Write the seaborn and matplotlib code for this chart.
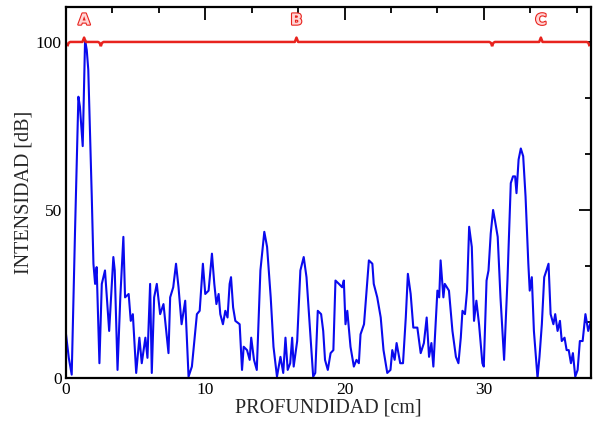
import numpy as np
import seaborn as sns
import matplotlib.pyplot as plt
import matplotlib.patheffects as pe
from matplotlib.ticker import MultipleLocator, AutoMinorLocator

# depth [cm] and intensity [dB]
depth = [0.0, 0.2, 0.41, 0.65, 0.89, 1.0, 1.2, 1.37, 1.49, 1.6, 1.85, 1.97, 2.09, 2.2, 2.4,
         2.57, 2.8, 3.1, 3.4, 3.5, 3.7, 3.9, 4.12, 4.24, 4.5, 4.65, 4.8, 5.04, 5.27, 5.44,
         5.7, 5.85, 6.04, 6.16, 6.33, 6.52, 6.76, 7.0, 7.2, 7.36, 7.48, 7.7, 7.9, 8.08, 8.3,
         8.56, 8.8, 9.04, 9.2, 9.4, 9.6, 9.83, 10.0, 10.24, 10.48, 10.65, 10.8, 10.96, 11.08,
         11.27, 11.44, 11.6, 11.75, 11.85, 12.0, 12.16, 12.47, 12.64, 12.76, 13.0, 13.19, 13.3,
         13.5, 13.7, 13.96, 14.24, 14.44, 14.7, 14.9, 15.15, 15.4, 15.6, 15.76, 15.92, 16.1,
         16.24, 16.35, 16.6, 16.83, 17.07, 17.27, 17.5, 17.75, 17.9, 18.08, 18.32, 18.47, 18.6,
         18.8, 19.0, 19.2, 19.35, 19.6, 19.83, 19.95, 20.07, 20.2, 20.43, 20.67, 20.86, 21.03,
         21.15, 21.4, 21.58, 21.75, 22.0, 22.1, 22.35, 22.6, 22.8, 23.07, 23.3, 23.43, 23.6,
         23.74, 24.0, 24.2, 24.4, 24.55, 24.75, 24.94, 25.23, 25.47, 25.7, 25.9, 26.07, 26.24,
         26.38, 26.55, 26.67, 26.8, 26.9, 27.1, 27.2, 27.5, 27.75, 28.0, 28.18, 28.35, 28.47,
         28.65, 28.8, 28.95, 29.14, 29.3, 29.47, 29.66, 29.9, 30.0, 30.2, 30.34, 30.5, 30.67,
         30.8, 31.0, 31.2, 31.46, 31.7, 31.94, 32.1, 32.25, 32.35, 32.5, 32.66, 32.83, 33.0,
         33.2, 33.3, 33.45, 33.6, 33.86, 34.0, 34.17, 34.34, 34.5, 34.65, 34.8, 35.0, 35.13,
         35.3, 35.47, 35.6, 35.8, 35.95, 36.1, 36.26, 36.4, 36.57, 36.74, 36.9, 37.1, 37.3,
         37.5, 37.7, 37.9]
intensity = [13, 6, 1, 44, 83.7, 80.7, 69, 100.6, 97.6, 91.7, 54, 34, 28, 33, 4.4,
             28, 32, 14, 36, 32, 2.4, 24, 42, 24, 25, 17, 19, 1.5, 12, 4.4,
             12, 6, 28, 1.5, 24, 28, 19, 22, 14, 7.4, 24, 27, 34, 27, 16,
             23, 0.4, 3.4, 10.4, 19, 20, 34, 25, 26, 37, 28, 22, 25, 19,
             16, 20, 18, 28, 30, 21, 17, 16, 2.4, 9.3, 8.3, 5.4, 12,
             5.4, 2.4, 32, 43.5, 39, 24, 9.3, 0.4, 6.3, 1.5, 12, 2.4, 4.4,
             12, 3.4, 11, 32, 36, 30, 16, 0.4, 1.5, 20, 19, 14, 5.4,
             2.4, 7.4, 8.3, 29, 28, 27, 29, 16, 20, 9.3, 3.4, 5.4, 4.4,
             13, 16, 26, 35, 34, 28, 24, 18, 8.3, 1.5, 2.4, 8.3, 5.4,
             10.4, 4.4, 4.4, 18, 31, 25, 15, 15, 7.4, 10.4, 18, 6.3, 10.4,
             3.4, 17, 26, 24, 35, 24, 28, 26, 14, 6.3, 4.4, 12, 20,
             19, 26, 45, 39, 17, 23, 16, 4.4, 3.4, 29, 32, 43, 50,
             47, 42, 24, 5.4, 29, 58, 60, 60, 55, 65, 68.3, 66, 54,
             34, 26, 30, 14, 0, 6.3, 16, 30, 32, 34, 19, 16, 19,
             14, 17, 11, 12, 8.3, 8.3, 4.4, 7.4, 0.4, 2.4, 11, 11, 19,
             14, 17, 16]

# zones marked by the red braces
zone_labels = ['A', 'B', 'C']
zone_edges = [0.1, 2.5, 30.6, 37.6]
brace_level = 100

sns.set_style("white")
plt.rcParams['font.family'] = ['Liberation Serif', 'DejaVu Serif']

fig = plt.figure(figsize=(5.93, 4.24), dpi=100)
ax = fig.add_axes([66 / 593, 46 / 424, 525 / 593, 371 / 424])

sns.lineplot(x=depth, y=intensity, ax=ax, color='#0a0aee', linewidth=1.5,
             estimator=None, sort=False)

# braces
red = '#e8231e'
hook = 1.3
for i, lab in enumerate(zone_labels):
    x0, x1 = zone_edges[i], zone_edges[i + 1]
    xc = (x0 + x1) / 2
    bx = [x0, x0 + 0.08, x0 + 0.2, xc - 0.12, xc, xc + 0.12, x1 - 0.2, x1 - 0.08, x1]
    by = [brace_level - hook, brace_level - 0.3, brace_level, brace_level, brace_level + hook,
          brace_level, brace_level, brace_level - 0.3, brace_level - hook]
    ax.plot(bx, by, color=red, linewidth=1.8, solid_capstyle='butt')
    ax.text(xc, brace_level + 6.5, lab, ha='center', va='center', fontsize=11,
            fontweight='bold', family='DejaVu Sans', color='#ffd6d6',
            path_effects=[pe.withStroke(linewidth=1.6, foreground=red)])

ax.set_xlim(0, 37.7)
ax.set_ylim(0, 110.4)
ax.xaxis.set_major_locator(MultipleLocator(10))
ax.xaxis.set_minor_locator(AutoMinorLocator(3))
ax.yaxis.set_major_locator(MultipleLocator(50))
ax.yaxis.set_minor_locator(AutoMinorLocator(3))
ax.tick_params(which='both', direction='in', top=True, right=True, width=1.3,
               labelsize=12.5, colors='black', pad=3)
ax.tick_params(which='major', length=9)
ax.tick_params(which='minor', length=4)
for s in ax.spines.values():
    s.set_linewidth(1.6)
    s.set_color('black')

ax.set_xlabel('PROFUNDIDAD [cm]', fontsize=14.5, labelpad=0)
ax.set_ylabel('INTENSIDAD [dB]', fontsize=14.5, labelpad=2)

fig.savefig('out.png', dpi=100)
